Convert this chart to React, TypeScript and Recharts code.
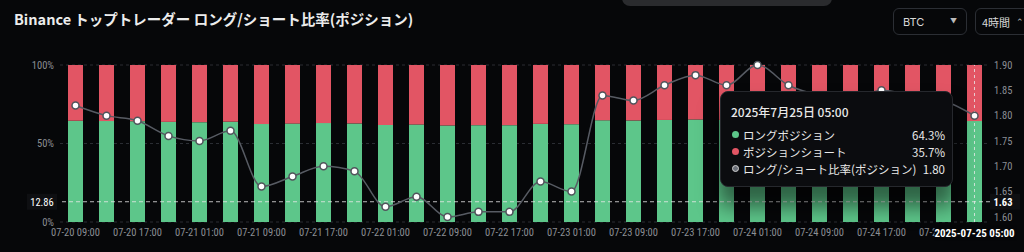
import {
  Bar,
  CartesianGrid,
  ComposedChart,
  Line,
  ReferenceLine,
  Tooltip,
  XAxis,
  YAxis,
} from "recharts";

const times = [
  "07-20 09:00", "07-20 13:00", "07-20 17:00", "07-20 21:00",
  "07-21 01:00", "07-21 05:00", "07-21 09:00", "07-21 13:00",
  "07-21 17:00", "07-21 21:00", "07-22 01:00", "07-22 05:00",
  "07-22 09:00", "07-22 13:00", "07-22 17:00", "07-22 21:00",
  "07-23 01:00", "07-23 05:00", "07-23 09:00", "07-23 13:00",
  "07-23 17:00", "07-23 21:00", "07-24 01:00", "07-24 05:00",
  "07-24 09:00", "07-24 13:00", "07-24 17:00", "07-24 21:00",
  "07-25 01:00", "07-25 05:00",
];
const longPct = [
  64.5, 64.3, 64.2, 63.8, 63.6, 63.9, 62.4, 62.7, 63.0, 62.8,
  61.8, 62.1, 61.5, 61.7, 61.7, 62.5, 62.3, 64.8, 64.7, 65.0,
  65.3, 65.0, 65.5, 65.0, 64.8, 64.7, 64.9, 64.8, 64.7, 64.3,
];
const shortPct = [
  35.5, 35.7, 35.8, 36.2, 36.4, 36.1, 37.6, 37.3, 37.0, 37.2,
  38.2, 37.9, 38.5, 38.3, 38.3, 37.5, 37.7, 35.2, 35.3, 35.0,
  34.7, 35.0, 34.5, 35.0, 35.2, 35.3, 35.1, 35.2, 35.3, 35.7,
];
const ratios = [
  1.82, 1.80, 1.79, 1.76, 1.75, 1.77, 1.66, 1.68, 1.70, 1.69,
  1.62, 1.64, 1.60, 1.61, 1.61, 1.67, 1.65, 1.84, 1.83, 1.86,
  1.88, 1.86, 1.90, 1.86, 1.84, 1.83, 1.85, 1.84, 1.83, 1.80,
];
const pctTicks = [0, 50, 100];
const ratioTicks = [1.6, 1.65, 1.7, 1.75, 1.8, 1.85, 1.9];

const activeIndex = 29;
const activeAxisLabel = "2025-07-25 05:00";
const activeTitle = "2025年7月25日 05:00";
const crossRatio = 1.63;
const crossPctLabel = "12.86";

const GREEN = "#5dc68a";
const RED = "#e25564";
const AXIS_FONT = "'Liberation Sans Narrow', 'Roboto Condensed', 'DejaVu Sans Condensed', sans-serif";
const JP_FONT = "'Noto Sans CJK JP', 'Noto Sans', sans-serif";

const data = times.map((t, i) => ({
  time: t,
  long: longPct[i],
  short: shortPct[i],
  ratio: ratios[i],
}));

const XTick = (props: any) => {
  const { x, y, payload } = props;
  const i = payload.index;
  if (i === activeIndex) {
    return (
      <g>
        <rect x={x - 40} y={y + 3} width={82} height={16} fill='#050608' />
        <text x={x} y={y + 15} textAnchor='middle' fill='#ffffff' fontSize={11} fontWeight={700} fontFamily={AXIS_FONT}>
          {activeAxisLabel}
        </text>
      </g>
    );
  }
  if (i % 2 !== 0) return <g />;
  return (
    <text x={x} y={y + 14} textAnchor='middle' fill='#8b8e94' fontSize={10.5} fontFamily={AXIS_FONT}>
      {payload.value}
    </text>
  );
};

const CrossLabel = (props: any) => {
  const { viewBox } = props;
  const y = viewBox.y;
  const left = viewBox.x;
  const right = viewBox.x + viewBox.width;
  return (
    <g>
      <rect x={left - 33} y={y - 8} width={30} height={16} fill='#0e0f12' />
      <text x={left - 18} y={y + 4} textAnchor='middle' fill='#ffffff' fontSize={10.5} fontFamily={AXIS_FONT}>
        {crossPctLabel}
      </text>
      <rect x={right} y={y - 8} width={30} height={16} fill='#0e0f12' />
      <text x={right + 13} y={y + 4} textAnchor='middle' fill='#ffffff' fontSize={10.5} fontWeight={700} fontFamily={AXIS_FONT}>
        {crossRatio.toFixed(2)}
      </text>
    </g>
  );
};

const TipBox = ({ active, payload }: any) => {
  if (!active || !payload || !payload.length) return null;
  const row = payload[0].payload;
  const rows = [
    { name: "ロングポジション", value: `${row.long.toFixed(1)}%`, color: GREEN, ring: false },
    { name: "ポジションショート", value: `${row.short.toFixed(1)}%`, color: RED, ring: false },
    { name: "ロング/ショート比率(ポジション)", value: row.ratio.toFixed(2), color: "#6b6f78", ring: true },
  ];
  return (
    <div
      style={{
        width: 233,
        height: 96,
        boxSizing: "border-box",
        background: "#0b0c0f",
        border: "1px solid #26282d",
        borderRadius: 8,
        padding: "12px 7px 0 10px",
        fontFamily: JP_FONT,
        color: "#e8e8e8",
        boxShadow: "0 18px 20px 2px rgba(0,0,0,0.5)",
      }}>
      <div style={{ fontSize: 12, lineHeight: "16px", fontWeight: 500 }}>{activeTitle}</div>
      <div style={{ marginTop: 6 }}>
        {rows.map((r) => (
          <div key={r.name} style={{ display: "flex", alignItems: "center", height: 17, fontSize: 11.5 }}>
            <span
              style={{
                width: 7,
                height: 7,
                borderRadius: "50%",
                background: r.color,
                border: r.ring ? "1px solid #d0d0d0" : "none",
                boxSizing: "border-box",
                marginRight: 4,
                marginLeft: 1,
              }}
            />
            <span style={{ flex: 1 }}>{r.name}</span>
            <span>{r.value}</span>
          </div>
        ))}
      </div>
    </div>
  );
};

export default function App() {
  return (
    <div
      style={{
        position: "fixed",
        left: 0,
        top: 0,
        width: 1024,
        height: 252,
        background: "#060709",
        overflow: "hidden",
      }}>
      <div
        style={{
          position: "absolute",
          left: 622,
          top: -10,
          width: 210,
          height: 16,
          background: "#2a2b2e",
          borderRadius: 8,
        }}
      />
      <div
        style={{
          position: "absolute",
          left: 14,
          top: 8,
          fontFamily: JP_FONT,
          fontSize: 14.5,
          fontWeight: 700,
          color: "#ececec",
          whiteSpace: "nowrap",
          zIndex: 2,
        }}>
        Binance トップトレーダー ロング/ショート比率(ポジション)
      </div>
      <div
        style={{
          position: "absolute",
          left: 893,
          top: 8,
          width: 74,
          height: 27,
          boxSizing: "border-box",
          border: "1px solid #2b2e34",
          borderRadius: 6,
          fontFamily: "Inter, sans-serif",
          fontSize: 11,
          color: "#d8d8d8",
          display: "flex",
          alignItems: "center",
          padding: "0 9px",
          zIndex: 2,
        }}>
        <span style={{ flex: 1 }}>BTC</span>
        <span style={{ fontSize: 7, color: "#bbb" }}>▼</span>
      </div>
      <div
        style={{
          position: "absolute",
          left: 975,
          top: 8,
          width: 70,
          height: 27,
          boxSizing: "border-box",
          border: "1px solid #2b2e34",
          borderRadius: 6,
          fontFamily: JP_FONT,
          fontSize: 11,
          color: "#d8d8d8",
          display: "flex",
          alignItems: "center",
          padding: "0 6px",
          zIndex: 2,
        }}>
        <span>4時間</span>
        <span style={{ marginLeft: 6, fontSize: 9, color: "#bbb" }}>⌃</span>
      </div>
      <div style={{ position: "absolute", left: 0, top: 0 }}>
        <ComposedChart
          width={1024}
          height={252}
          data={data}
          margin={{ top: 65, right: 0, bottom: 0, left: 0 }}>
          <CartesianGrid yAxisId='pct' vertical={false} stroke='#2a2d33' strokeDasharray='3 3' />
          <XAxis
            dataKey='time'
            height={30}
            interval={0}
            axisLine={false}
            tickLine={false}
            tickSize={0}
            tickMargin={0}
            tick={<XTick />}
          />
          <YAxis
            yAxisId='pct'
            width={60}
            domain={[0, 100]}
            ticks={pctTicks}
            axisLine={false}
            tickLine={false}
            tickSize={0}
            tickMargin={6}
            tickFormatter={(v: number) => `${v}%`}
            tick={{ fill: "#8b8e94", fontSize: 10.5, fontFamily: AXIS_FONT }}
          />
          <YAxis
            yAxisId='ratio'
            orientation='right'
            width={34}
            domain={[1.59, 1.9]}
            ticks={ratioTicks}
            axisLine={false}
            tickLine={false}
            tickSize={0}
            tickMargin={4}
            tickFormatter={(v: number) => v.toFixed(2)}
            tick={{ fill: "#8b8e94", fontSize: 10.5, fontFamily: AXIS_FONT, textAnchor: "start" }}
          />
          <Bar yAxisId='pct' dataKey='long' stackId='s' fill={GREEN} barSize={15} isAnimationActive={false} />
          <Bar yAxisId='pct' dataKey='short' stackId='s' fill={RED} barSize={15} isAnimationActive={false} />
          <ReferenceLine
            yAxisId='pct'
            x={times[activeIndex]}
            stroke='#e8e8e8'
            strokeOpacity={0.8}
            strokeDasharray='3 3'
          />
          <ReferenceLine
            yAxisId='ratio'
            y={crossRatio}
            stroke='#e8e8e8'
            strokeOpacity={0.8}
            strokeDasharray='4 3'
            label={<CrossLabel />}
          />
          <Line
            yAxisId='ratio'
            type='monotone'
            dataKey='ratio'
            stroke='#575b63'
            strokeWidth={1.5}
            dot={{ r: 3.5, fill: "#ffffff", stroke: "#50545b", strokeWidth: 1.5 }}
            activeDot={false}
            isAnimationActive={false}
          />
          <Tooltip
            defaultIndex={activeIndex}
            cursor={false}
            position={{ x: 720, y: 91 }}
            isAnimationActive={false}
            content={<TipBox />}
            wrapperStyle={{ zIndex: 5, outline: "none" }}
          />
        </ComposedChart>
      </div>
    </div>
  );
}
